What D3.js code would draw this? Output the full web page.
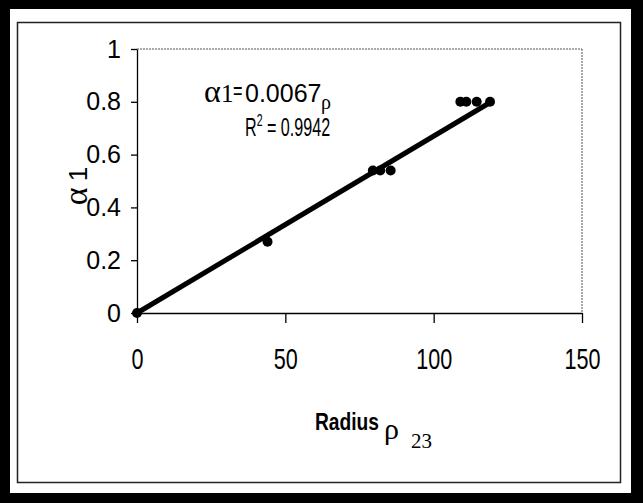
<!DOCTYPE html>
<html lang="en">
  <head>
    <meta charset="UTF-8" />
    <title>alpha1 vs radius</title>
    <style>
      body {
        margin: 0;
        background: white;
      }
      .sans {
        font-family: "Liberation Sans", Arial, sans-serif;
        fill: black;
      }
      .greek {
        font-family: "Liberation Serif", "Times New Roman", serif;
        fill: black;
      }
      .plot-edge {
        stroke: #555;
        stroke-width: 1;
        stroke-dasharray: 2, 1;
      }
    </style>
  </head>
  <body>
    <script src="https://d3js.org/d3.v7.min.js"></script>
    <script>
      // measured points (radius rho23, alpha1)
      const rhoValues = [0, 44, 79.5, 82, 85.5, 109, 111, 114.5, 119];
      const alphaValues = [0, 0.27, 0.54, 0.54, 0.54, 0.8, 0.8, 0.8, 0.8];
      // linear trendline through origin
      const slope = 0.0067;
      const rSquared = 0.9942;
      const xTicks = [0, 50, 100, 150];
      const yTicks = [0, 0.2, 0.4, 0.6, 0.8, 1];
      const yTickLabels = ["0", "0.2", "0.4", "0.6", "0.8", "1"];

      function makeChart() {
        const width = 643;
        const height = 503;
        const plot = { left: 137, right: 582, top: 49, bottom: 313 };

        const svg = d3
          .select("body")
          .append("svg")
          .attr("width", width)
          .attr("height", height);

        // outer black frame
        const frame = svg.append("g").attr("fill", "black");
        frame.append("rect").attr("x", 0).attr("y", 0).attr("width", width).attr("height", 9);
        frame.append("rect").attr("x", 0).attr("y", 0).attr("width", 10).attr("height", height);
        frame.append("rect").attr("x", 631).attr("y", 0).attr("width", 12).attr("height", height);
        frame.append("rect").attr("x", 0).attr("y", 493).attr("width", width).attr("height", 10);

        // inner chart area border
        svg
          .append("rect")
          .attr("x", 17.5)
          .attr("y", 22.5)
          .attr("width", 603)
          .attr("height", 460)
          .attr("fill", "none")
          .attr("stroke", "#222")
          .attr("stroke-width", 1.5);

        const xScale = d3
          .scaleLinear()
          .domain([0, 150])
          .range([plot.left, plot.right]);

        const yScale = d3
          .scaleLinear()
          .domain([0, 1])
          .range([plot.bottom, plot.top]);

        // dotted top / right edges of plot area
        svg
          .append("line")
          .attr("class", "plot-edge")
          .attr("x1", plot.left)
          .attr("x2", plot.right)
          .attr("y1", plot.top)
          .attr("y2", plot.top);
        svg
          .append("line")
          .attr("class", "plot-edge")
          .attr("x1", plot.right)
          .attr("x2", plot.right)
          .attr("y1", plot.top)
          .attr("y2", plot.bottom);

        const xAxis = d3
          .axisBottom(xScale)
          .tickValues(xTicks)
          .tickSizeInner(10)
          .tickSizeOuter(0)
          .tickPadding(25);

        const yAxis = d3
          .axisLeft(yScale)
          .tickValues(yTicks)
          .tickSizeInner(6)
          .tickSizeOuter(0)
          .tickPadding(10)
          .tickFormat((d, i) => yTickLabels[i]);

        // x labels are tall and narrow in the original
        svg
          .append("g")
          .attr("transform", `translate(0, ${plot.bottom})`)
          .call(xAxis)
          .call((g) =>
            g
              .selectAll("text")
              .attr("class", "sans")
              .attr("font-size", 30)
              .attr("transform", "scale(0.72,1)")
          );

        svg
          .append("g")
          .attr("transform", `translate(${plot.left}, 0)`)
          .call(yAxis)
          .call((g) => g.selectAll("text").attr("class", "sans").attr("font-size", 25));

        svg.selectAll(".domain, .tick line").attr("stroke", "black").attr("stroke-width", 1.3);

        // y axis title: alpha 1
        svg
          .append("text")
          .attr("transform", "translate(87, 186) rotate(-90)")
          .attr("text-anchor", "middle")
          .call((t) => t.append("tspan").attr("class", "greek").attr("font-size", 34).text("α"))
          .call((t) =>
            t.append("tspan").attr("class", "sans").attr("font-size", 26).attr("dx", 6).text("1")
          );

        // x axis title: Radius rho 23
        svg
          .append("text")
          .attr("class", "sans")
          .attr("transform", "translate(315, 430) scale(0.8,1)")
          .attr("font-size", 24)
          .attr("font-weight", "bold")
          .text("Radius");
        svg
          .append("text")
          .attr("class", "greek")
          .attr("font-size", 30)
          .attr("x", 384)
          .attr("y", 439)
          .text("ρ");
        svg
          .append("text")
          .attr("class", "greek")
          .attr("font-size", 21)
          .attr("x", 411)
          .attr("y", 448)
          .text("23");

        // trendline
        const maxRho = d3.max(rhoValues);
        svg
          .append("line")
          .attr("x1", xScale(0))
          .attr("y1", yScale(0))
          .attr("x2", xScale(maxRho))
          .attr("y2", yScale(slope * maxRho))
          .attr("stroke", "black")
          .attr("stroke-width", 5);

        // points
        svg
          .append("g")
          .selectAll("circle")
          .data(rhoValues.map((r, i) => ({ r, a: alphaValues[i] })))
          .join("circle")
          .attr("cx", (d) => xScale(d.r))
          .attr("cy", (d) => yScale(d.a))
          .attr("r", 5)
          .attr("fill", "black");

        // equation
        const eq = svg.append("g");
        eq.append("text").attr("class", "greek").attr("x", 204).attr("y", 102).attr("font-size", 32).text("α");
        eq.append("text").attr("class", "greek").attr("x", 221).attr("y", 102).attr("font-size", 25).text("1");
        eq.append("text")
          .attr("class", "sans")
          .attr("transform", "translate(233, 99) scale(0.65,1)")
          .attr("font-size", 25)
          .text("=");
        eq.append("text").attr("class", "sans").attr("x", 245).attr("y", 102).attr("font-size", 25).text(slope);
        eq.append("text").attr("class", "greek").attr("x", 321).attr("y", 109).attr("font-size", 20).text("ρ");

        const r2 = eq
          .append("text")
          .attr("class", "sans")
          .attr("transform", "translate(245, 136) scale(0.62,1)")
          .attr("font-size", 26);
        r2.append("tspan").text("R");
        r2.append("tspan").attr("font-size", 17).attr("dy", -10).text("2");
        r2.append("tspan").attr("dy", 10).text(" = " + rSquared);
      }

      makeChart();
    </script>
  </body>
</html>
